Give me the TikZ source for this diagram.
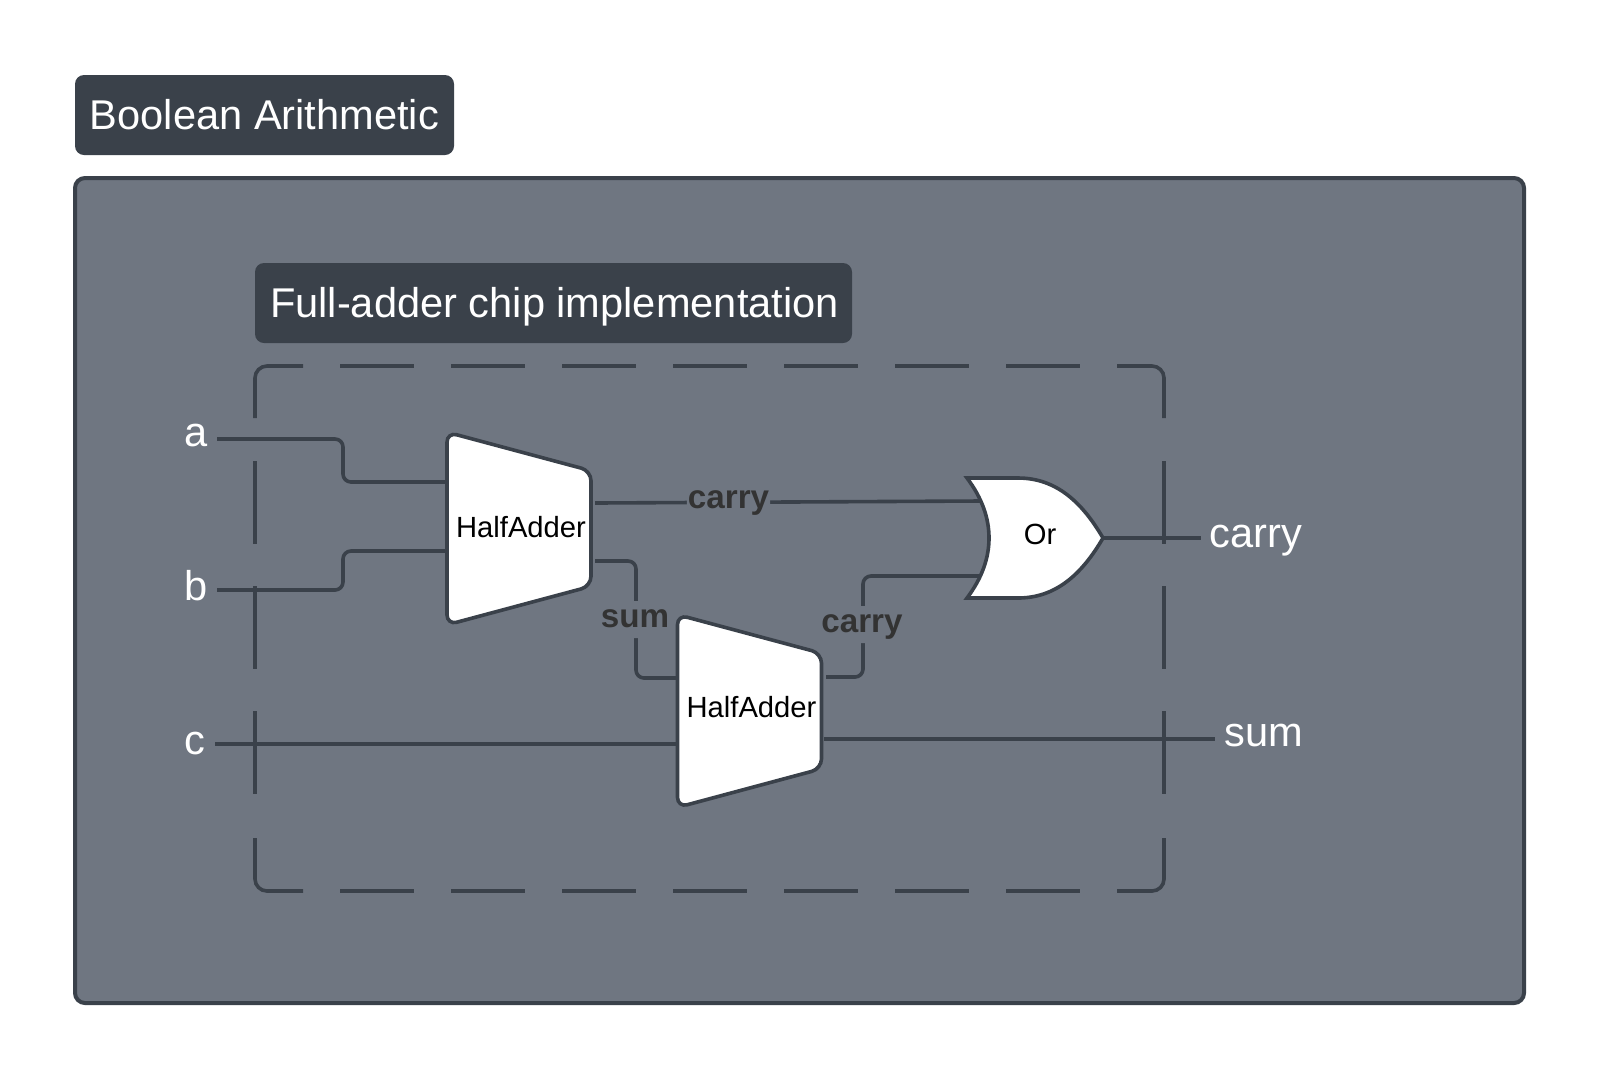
\documentclass[tikz,border=0pt]{standalone}
\usepackage{fontspec}
\setmainfont{Liberation Sans}
\usetikzlibrary{shapes.geometric}
\definecolor{slatedark}{HTML}{3A414A}
\definecolor{slatepanel}{HTML}{6F7681}
\definecolor{labelgrey}{HTML}{333333}
\tikzset{
  titlebox/.style={fill=slatedark, rounded corners=4.5pt, text=white, font=\fontsize{20.8pt}{24pt}\selectfont, inner sep=0pt, text height=14pt, text depth=0pt},
  pinlabel/.style={text=white, font=\fontsize{20.8pt}{24pt}\selectfont, inner sep=0pt},
  halfadder/.style={trapezium, draw=slatedark, fill=white, line width=1.8pt, rounded corners=5pt, shape border rotate=270,
    trapezium angle=87, trapezium stretches=true, minimum width=96.5pt, minimum height=72pt, inner sep=0pt,
    text height=10.5pt, text depth=0pt, font=\fontsize{14.6pt}{17pt}\selectfont},
  wire/.style={draw=slatedark, line width=1.8pt, rounded corners=4pt},
  wirelabel/.style={fill=slatepanel, text=labelgrey, font=\bfseries\fontsize{16.6pt}{19pt}\selectfont, inner sep=.5pt, text height=12.5pt, text depth=5pt},
  boundary/.style={draw=slatedark, line width=1.8pt, rounded corners=6pt},
  hdash/.style={draw=slatedark, line width=1.8pt, dash pattern=on 37pt off 18.5pt},
  vdash/.style={draw=slatedark, line width=1.8pt, dash pattern=on 41.5pt off 21pt}
}
\begin{document}
\begin{tikzpicture}[x=0.5pt, y=-0.5pt]
    \useasboundingbox (0, 0) rectangle (1599, 1078);

    \draw[draw=slatedark, fill=slatepanel, line width=2pt, rounded corners=5pt] (75, 178) rectangle (1524, 1003);

    \node[titlebox, minimum width=189.5pt, minimum height=40pt] (title) at (264.5, 115) {Boolean Arithmetic};
    \node[titlebox, minimum width=298.5pt, minimum height=40pt] (subtitle) at (553.5, 303) {\hspace*{1pt}Full-adder chip implementation};

    \draw[boundary] (255, 418) -- (255, 366) -- (303, 366);
    \draw[boundary] (1117, 366) -- (1164, 366) -- (1164, 418);
    \draw[boundary] (255, 838) -- (255, 891) -- (303, 891);
    \draw[boundary] (1117, 891) -- (1164, 891) -- (1164, 838);
    \draw[hdash] (340, 366) -- (1080, 366);
    \draw[hdash] (340, 891) -- (1080, 891);
    \draw[vdash] (255, 461) -- (255, 795);
    \draw[vdash] (1164, 461) -- (1164, 795);

    \node[pinlabel] (a) at (196, 435) {a};
    \node[pinlabel] (b) at (196, 586) {b};
    \node[pinlabel] (c) at (195, 743) {c};
    \node[pinlabel] (carry) at (1256, 541) {carry};
    \node[pinlabel] (sum) at (1264, 735) {sum};

    \coordinate (ain) at (217, 439);
    \coordinate (bin) at (217, 590);
    \coordinate (cin) at (215, 744);
    \coordinate (carryout) at (1201, 538);
    \coordinate (sumout) at (1215, 739);

    \coordinate (ha1a) at (447, 482);
    \coordinate (ha1b) at (447, 551);
    \coordinate (ha1carry) at (595, 503);
    \coordinate (ha1sum) at (595, 561);
    \coordinate (ha2a) at (677, 678);
    \coordinate (ha2b) at (677, 744);
    \coordinate (ha2carry) at (826, 677);
    \coordinate (ha2sum) at (824, 739);
    \coordinate (orin1) at (980, 501);
    \coordinate (orin2) at (980, 576);
    \coordinate (orout) at (1103, 538);

    \draw[wire] (ain) -- (343, 439) -- (343, 482) -- (ha1a);
    \draw[wire] (bin) -- (343, 590) -- (343, 551) -- (ha1b);
    \draw[wire] (cin) -- (ha2b);
    \draw[wire] (ha1carry) -- node[wirelabel, pos=.347, yshift=.5pt] {carry} (orin1);
    \draw[wire] (ha1sum) -- (636, 561) -- node[wirelabel, pos=.5, xshift=-.5pt] {sum} (636, 678) -- (ha2a);
    \draw[wire] (ha2carry) -- (863, 677) -- node[wirelabel, pos=.5, xshift=-.5pt, yshift=1pt] {carry} (863, 576) -- (orin2);
    \draw[wire] (ha2sum) -- (sumout);
    \draw[wire] (orout) -- (carryout);

    \node[halfadder] (ha1) at (519, 528.5) {\hspace*{2pt}\raisebox{1pt}{HalfAdder}};
    \node[halfadder] (ha2) at (749.5, 711) {\hspace*{2pt}\raisebox{2.1pt}{HalfAdder}};

    \draw[draw=slatedark, fill=white, line width=1.8pt] (967, 478) -- (1018, 478)
      .. controls (1056, 478) and (1082, 502) .. (1103, 538)
      .. controls (1082, 574) and (1056, 598) .. (1018, 598) -- (967, 598)
      .. controls (982, 578) and (989, 558) .. (989, 538)
      .. controls (989, 518) and (982, 498) .. (967, 478) -- cycle;
    \node[font=\fontsize{14.6pt}{17pt}\selectfont, inner sep=0pt] (orgate) at (1040, 534) {Or};
\end{tikzpicture}
\end{document}
